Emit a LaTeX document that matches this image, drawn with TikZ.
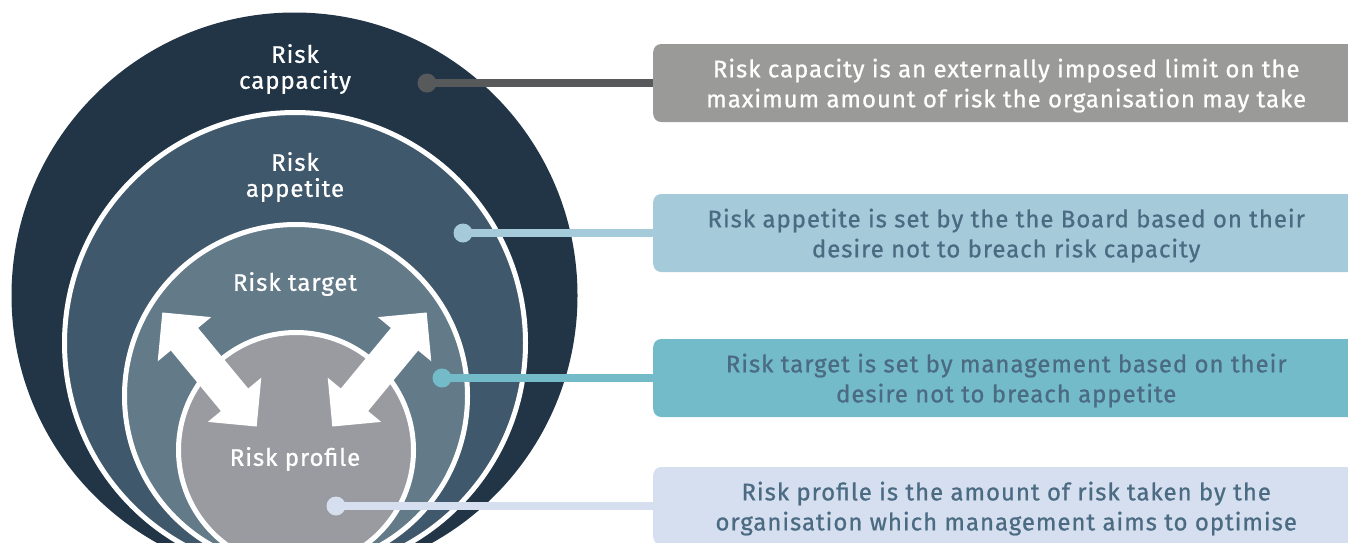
\documentclass[tikz,border=0pt]{standalone}
\usepackage{fontspec}
\setmainfont{Fira Sans}[FakeBold=0.8, LetterSpace=4]
\usetikzlibrary{positioning}
\usetikzlibrary{shapes}
\usetikzlibrary{calc}

\definecolor{CapacityBlue}{HTML}{213547}
\definecolor{AppetiteBlue}{HTML}{40586B}
\definecolor{TargetBlue}{HTML}{637A89}
\definecolor{ProfileGray}{HTML}{999BA0}
\definecolor{NoteGray}{HTML}{9A9A99}
\definecolor{LinkGray}{HTML}{58595B}
\definecolor{AppetiteLight}{HTML}{A5CADA}
\definecolor{TargetLight}{HTML}{74BBCA}
\definecolor{ProfileLight}{HTML}{D6DFEF}
\definecolor{NoteText}{HTML}{4A6B82}

\begin{document}
\begin{tikzpicture}[x=1pt, y=-1pt]

\useasboundingbox (0,0) rectangle (1348,542);
\clip (0,0) rectangle (1348,542);

\def\RingWidth{5pt}
\def\LinkWidth{8.5pt}
\def\DotSize{19pt}
\def\NoteWidth{706pt}
\def\NoteHeight{78pt}

% Styles
\tikzstyle{layer} =
	[circle, inner sep=0pt, outer sep=0pt]

\tikzstyle{inner layer} =
	[layer, draw=white, line width=\RingWidth]

\tikzstyle{layer text} =
	[text=white, align=center, font=\fontsize{24}{26}\selectfont]

\tikzstyle{dot} =
	[circle, inner sep=0pt, minimum size=\DotSize]

\tikzstyle{link} =
	[line width=\LinkWidth]

\tikzstyle{note} =
	[anchor=west, minimum width=\NoteWidth, minimum height=\NoteHeight,
	 rounded corners=8pt, align=center, text depth=0pt,
	 font=\fontsize{24}{30}\selectfont]

\tikzstyle{swap arrow} =
	[double arrow, fill=white, inner xsep=0pt, inner ysep=17.5pt,
	 double arrow head extend=17pt, minimum height=148pt]

% Layers

\node (Capacity) [layer, fill=CapacityBlue, minimum size=566pt] at (294.5, 295.5) {};
\node (Appetite) [inner layer, fill=AppetiteBlue, minimum size=461pt] at (295, 343) {};
\node (Target) [inner layer, fill=TargetBlue, minimum size=343pt] at (296, 396) {};
\node (Profile) [inner layer, fill=ProfileGray, minimum size=235pt] at (296, 450) {};

\node (CapacityText) [layer text] at (295, 69) {Risk\\cappacity};
\node (AppetiteText) [layer text] at (295, 177) {Risk\\appetite};
\node (TargetText) [layer text] at (295, 284) {Risk target};
\node (ProfileText) [layer text] at (295, 459) {Risk profile};

\node (LeftSwap) [swap arrow, rotate=-50.4] at (209.5, 369.5) {};
\node (RightSwap) [swap arrow, rotate=50.4] at (379.5, 369.5) {};

% Notes

\coordinate (NoteLeft) at (653, 0);

\node (CapacityDot) [dot, fill=LinkGray] at (427, 83) {};
\node (AppetiteDot) [dot, fill=AppetiteLight] at (463, 233) {};
\node (TargetDot) [dot, fill=TargetLight] at (442, 378) {};
\node (ProfileDot) [dot, fill=ProfileLight] at (336, 506) {};

\node (CapacityNote) [note, fill=NoteGray, text=white] at (CapacityDot -| NoteLeft)
	{Risk capacity is an externally imposed limit on the\\maximum amount of risk the organisation may take};
\node (AppetiteNote) [note, fill=AppetiteLight, text=NoteText] at (AppetiteDot -| NoteLeft)
	{Risk appetite is set by the the Board based on their\\desire not to breach risk capacity};
\node (TargetNote) [note, fill=TargetLight, text=NoteText] at (TargetDot -| NoteLeft)
	{Risk target is set by management based on their\\desire not to breach appetite};
\node (ProfileNote) [note, fill=ProfileLight, text=NoteText] at (ProfileDot -| NoteLeft)
	{Risk profile is the amount of risk taken by the\\organisation which management aims to optimise};

% Links

\draw[link, LinkGray] (CapacityDot.center) -- (CapacityNote.west);
\draw[link, AppetiteLight] (AppetiteDot.center) -- (AppetiteNote.west);
\draw[link, TargetLight] (TargetDot.center) -- (TargetNote.west);
\draw[link, ProfileLight] (ProfileDot.center) -- (ProfileNote.west);

\end{tikzpicture}
\end{document}
